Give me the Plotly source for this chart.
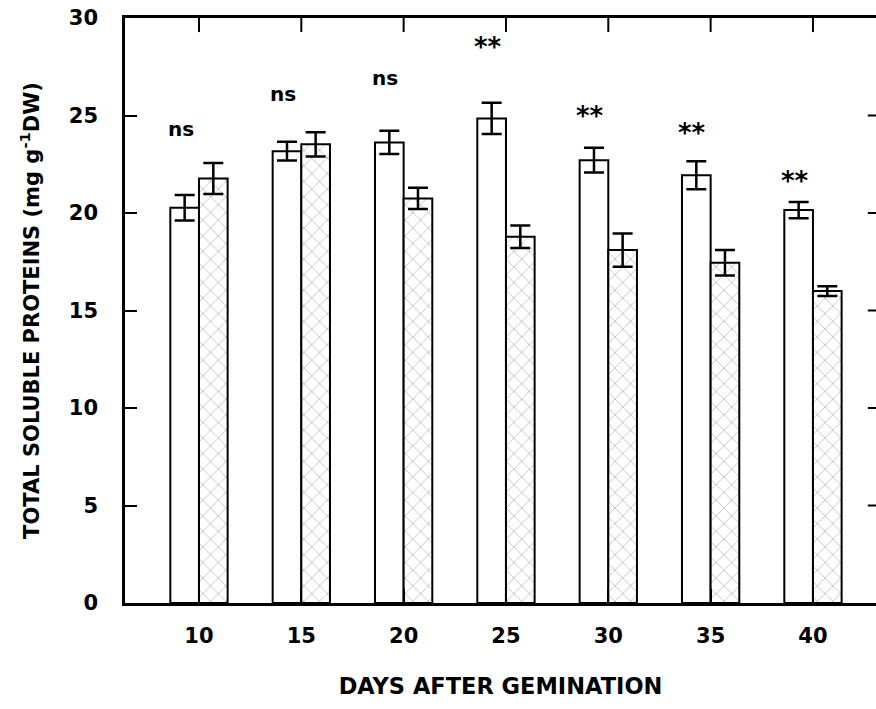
import plotly.graph_objects as go

# Days after germination and mean total soluble protein (mg g-1 DW)
days = [10, 15, 20, 25, 30, 35, 40]
control = [20.27, 23.17, 23.62, 24.85, 22.71, 21.94, 20.15]
control_err = [0.65, 0.48, 0.60, 0.80, 0.63, 0.72, 0.42]
treated = [21.77, 23.52, 20.75, 18.78, 18.10, 17.45, 16.00]
treated_err = [0.80, 0.62, 0.55, 0.58, 0.85, 0.65, 0.25]

# Significance labels above each pair
sig_labels = ["ns", "ns", "ns", "**", "**", "**", "**"]
sig_y = [24.3, 26.1, 26.9, 28.5, 25.0, 24.1, 21.65]

tick_vals_y = [0, 5, 10, 15, 20, 25, 30]

FONT = "DejaVu Sans"
BAR_W = 1.4
x_range = [6.385, 43.08]
y_range = [0, 30]

fig = go.Figure()

fig.add_trace(go.Bar(
    x=days, y=control, width=BAR_W, offset=-BAR_W,
    marker=dict(color="white", line=dict(color="black", width=2)),
    error_y=dict(type="data", array=control_err, color="black",
                 thickness=2.5, width=10),
    showlegend=False,
))

fig.add_trace(go.Bar(
    x=days, y=treated, width=BAR_W, offset=0,
    marker=dict(color="white", line=dict(color="black", width=2),
                pattern=dict(shape="x", fgcolor="#808080", bgcolor="white",
                             size=11, solidity=0.15)),
    error_y=dict(type="data", array=treated_err, color="black",
                 thickness=2.5, width=10),
    showlegend=False,
))

# inward tick marks on the top and right edges of the frame
top_len = 0.72   # in y units (about 14 px)
right_len = 0.4  # in x units (about 8 px)
tx, ty = [], []
for d in days:
    tx += [d, d, None]
    ty += [y_range[1], y_range[1] - top_len, None]
for v in tick_vals_y[1:-1]:
    tx += [x_range[1] - right_len, x_range[1], None]
    ty += [v, v, None]
fig.add_trace(go.Scatter(x=tx, y=ty, mode="lines",
                         line=dict(color="black", width=2),
                         showlegend=False, hoverinfo="skip", cliponaxis=False))

for d, lab, yv in zip(days, sig_labels, sig_y):
    fig.add_annotation(
        x=d - BAR_W / 2 - 0.2, y=yv, text=lab, showarrow=False,
        font=dict(family=FONT, size=20 if lab == "ns" else 26, color="black",
                  weight="bold"),
        xanchor="center", yanchor="middle",
    )

fig.update_layout(
    width=876, height=709,
    margin=dict(l=125, r=0, t=18, b=106),
    paper_bgcolor="white", plot_bgcolor="white",
    barmode="overlay",
    font=dict(family=FONT, size=21, color="black"),
    xaxis=dict(
        range=x_range, tickvals=days, ticktext=[str(d) for d in days],
        ticks="inside", ticklen=14, tickwidth=2, tickcolor="black",
        showline=True, linecolor="black", linewidth=2.5, mirror=True,
        showgrid=False, zeroline=False, ticklabelstandoff=12,
        tickfont=dict(family=FONT, size=21, weight="bold"),
        title=dict(text="DAYS AFTER GEMINATION", standoff=32,
                   font=dict(family=FONT, size=22.5, weight="bold")),
    ),
    yaxis=dict(
        range=y_range, tickvals=tick_vals_y,
        ticks="inside", ticklen=12, tickwidth=2, tickcolor="black",
        showline=True, linecolor="black", linewidth=2.5,
        showgrid=False, zeroline=False, ticklabelstandoff=20,
        tickfont=dict(family=FONT, size=21, weight="bold"),
        title=dict(text="TOTAL SOLUBLE PROTEINS (mg g<sup>-1</sup>DW)",
                   standoff=24, font=dict(family=FONT, size=21, weight="bold")),
    ),
)

fig.write_html("out.html")
